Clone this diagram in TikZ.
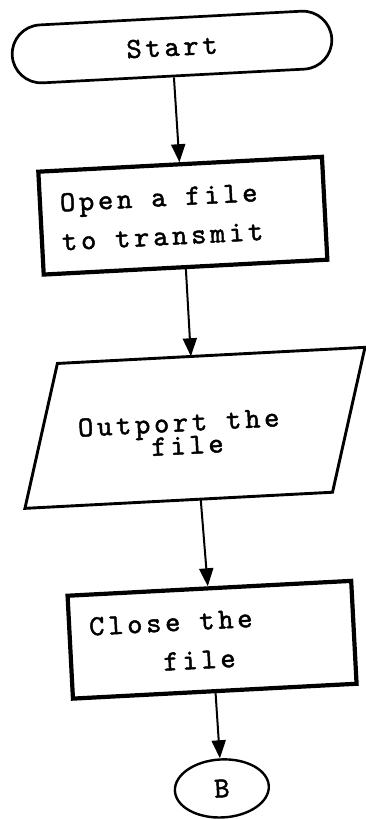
\documentclass[tikz,border=0pt]{standalone}
\usepackage{fontspec}
\usetikzlibrary{arrows.meta,shapes.geometric}
\newfontfamily\dotfont{lmmono10-regular.otf}[LetterSpace=13,FakeBold=1.6]
% one character cell of the letter-spaced typewriter face
\newcommand\blank{\hspace{0.655em}}

\tikzset{
  flowtext/.style={font=\dotfont\fontsize{29}{39}\selectfont},
  terminal/.style={draw, line width=2.7pt, rounded corners=29pt,
    minimum width=320pt, minimum height=58pt, inner sep=0pt, flowtext},
  procbox/.style={draw, line width=4.2pt, minimum height=103pt,
    inner xsep=20pt, text width=244pt, align=left, flowtext},
  ioframe/.style={line width=2.9pt, line join=miter},
  ioanchor/.style={minimum width=300pt, minimum height=143pt, inner sep=0pt},
  iotext/.style={align=left, inner sep=0pt, flowtext},
  connector/.style={draw, ellipse, line width=2.4pt, minimum width=94pt,
    minimum height=58pt, inner sep=0pt, flowtext},
  flow/.style={line width=2pt, -{Triangle[length=18pt,width=14pt]}},
}

\begin{document}
\begin{tikzpicture}[x=1pt,y=-1pt]
\useasboundingbox (0,0) rectangle (365,819);
\begin{scope}[rotate around={3:(182,410)}, transform shape]
  \node[terminal] (start) at (191,47) {Start};
  \node[procbox] (open) at (193,216) {Open\blank a\blank file\\to\blank transmit};

  % input/output parallelogram, with a plain node spanning its height
  \node[ioanchor] (out) at (194,428.5) {};
  \draw[ioframe] (60,357) -- (368,357) -- (328,500) -- (20,500) -- cycle;
  \node[iotext] (outtxt) at (178,437)
    {Outport\blank the\\[-16pt]\phantom{Outp}file};

  \node[procbox] (close) at (200,641) {Close\blank the\\\phantom{Clos}file};
  \node[connector] (b) at (202,790) {B};

  \draw[flow] (start) -- (open);
  \draw[flow] (open) -- (out);
  \draw[flow] (out) -- (close);
  \draw[flow] (close) -- (b);
\end{scope}
\end{tikzpicture}
\end{document}
